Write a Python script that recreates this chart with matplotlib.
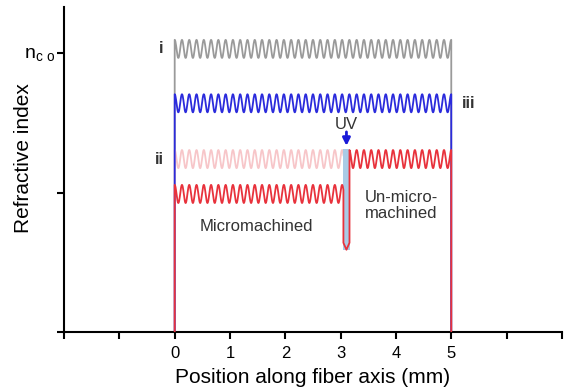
import numpy as np
import matplotlib
matplotlib.use("Agg")
import matplotlib.pyplot as plt

plt.rcParams['font.family'] = ['Liberation Sans', 'DejaVu Sans']

# ---- data (schematic refractive-index profiles) ----
x_ticks = [-2, -1, 0, 1, 2, 3, 4, 5, 6, 7]
x_tick_labels = ['', '', '0', '1', '2', '3', '4', '5', '', '']
y_ticks = [0, 1, 2]
y_tick_labels = ['', '', r'n$_{\mathregular{c\ o}}$']

grating_start = 0.0
grating_end = 5.0
n_cycles = 38
amplitude = 0.065

level_i = 2.03       # profile i (grey)
level_iii = 1.64     # profile iii (blue)
level_ii = 1.24      # profile ii before UV (faded) / un-micromachined part
level_micro = 0.99   # micromachined part
uv_left = 3.05
uv_right = 3.16
uv_center = 3.105
dip_side = 0.64
dip_bottom = 0.59

period = (grating_end - grating_start) / n_cycles


def wave(x0, x1, level):
    x = np.linspace(x0, x1, 800)
    y = level + amplitude * np.cos(2 * np.pi * (x - grating_start) / period)
    return x, y


def full_profile(level):
    xw, yw = wave(grating_start, grating_end, level)
    xs = np.concatenate([[grating_start], xw, [grating_end]])
    ys = np.concatenate([[0], yw, [0]])
    return xs, ys


fig = plt.figure(figsize=(5.67, 3.92), dpi=100)
ax = fig.add_axes([0.113, 0.153, 0.878, 0.829])

# grey profile i
xs, ys = full_profile(level_i)
ax.plot(xs, ys, color='#9a9a9a', lw=1.3, zorder=2)

# faded profile ii (before UV), left part only
xw, yw = wave(grating_start, uv_left, level_ii)
ax.plot(np.concatenate([[grating_start], xw]), np.concatenate([[0], yw]),
        color='#f7c6c9', lw=1.3, zorder=2.2)

# blue profile iii
xs, ys = full_profile(level_iii)
ax.plot(xs, ys, color='#2b2bdc', lw=1.3, zorder=2.5)

# UV beam
ax.add_patch(plt.Rectangle((uv_left - 0.01, dip_bottom), uv_right - uv_left + 0.02,
                           1.31 - dip_bottom,
                           color='#aacbe6', lw=0, zorder=2.6))

# red profile (micromachined + un-micromachined)
xl, yl = wave(grating_start, uv_left, level_micro)
xr, yr = wave(uv_right, grating_end, level_ii)
xs = np.concatenate([[grating_start], xl, [uv_left, uv_center, uv_right], xr, [grating_end]])
ys = np.concatenate([[0], yl, [dip_side, dip_bottom, dip_side], yr, [0]])
ax.plot(xs, ys, color='#e8323c', lw=1.3, zorder=3)

# UV arrow and label
ax.annotate('', xy=(uv_center, 1.335), xytext=(uv_center, 1.435),
            arrowprops=dict(arrowstyle='-|>', color='#1a1ad8', lw=2.0,
                            mutation_scale=11, shrinkA=0, shrinkB=0), zorder=4)
ax.text(uv_center, 1.49, 'UV', ha='center', va='center',
        fontsize=12, color='#333333')

# labels
ax.text(-0.25, level_i, 'i', ha='center', va='center', fontsize=12,
        color='#333333', fontweight='bold')
ax.text(-0.28, level_ii, 'ii', ha='center', va='center', fontsize=12,
        color='#333333', fontweight='bold')
ax.text(5.32, level_iii, 'iii', ha='center', va='center', fontsize=12,
        color='#333333', fontweight='bold')
ax.text(1.47, 0.76, 'Micromachined', ha='center', va='center', fontsize=12,
        color='#333333')
ax.text(4.1, 0.905, 'Un-micro-\nmachined', ha='center', va='center', fontsize=12,
        color='#333333', linespacing=1.1)

# axes styling
ax.set_xlim(-2, 7)
ax.set_ylim(0, 2.33)
ax.set_xticks(x_ticks)
ax.set_xticklabels(x_tick_labels, fontsize=12)
ax.set_yticks(y_ticks)
ax.set_yticklabels(y_tick_labels, fontsize=14)
for s in ['top', 'right']:
    ax.spines[s].set_visible(False)
for s in ['left', 'bottom']:
    ax.spines[s].set_linewidth(1.5)
ax.tick_params(axis='both', direction='out', length=5, width=1.5)
ax.tick_params(axis='y', pad=1)
ax.tick_params(axis='x', pad=5)
ax.set_xlabel('Position along fiber axis (mm)', fontsize=15, labelpad=5)
ax.set_ylabel('Refractive index', fontsize=15)
ax.yaxis.set_label_coords(-0.062, 0.535)

fig.savefig('out.png', dpi=100)
